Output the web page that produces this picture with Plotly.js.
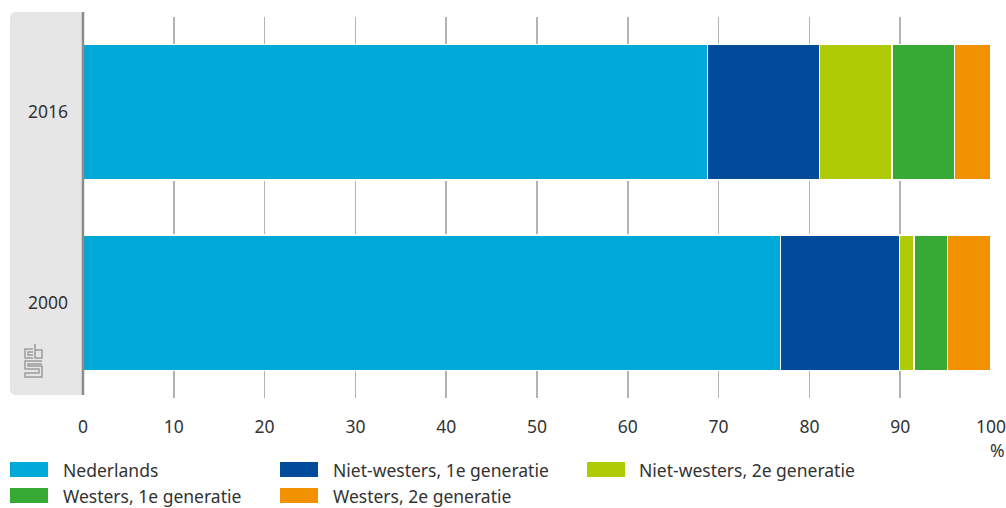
<!DOCTYPE html>
<html><head><meta charset="utf-8">
<script src="https://cdn.plot.ly/plotly-3.0.1.min.js"></script>
<style>html,body{margin:0;padding:0;background:#fff}#chart{width:1006px;height:508px}</style>
</head><body><div id="chart"></div>
<script>
const years = ['2000', '2016'];
const seriesNames = ['Nederlands', 'Niet-westers, 1e generatie', 'Niet-westers, 2e generatie', 'Westers, 1e generatie', 'Westers, 2e generatie'];
const nederlands = [76.8, 68.8];
const nietWesters1 = [13.1, 12.3];
const nietWesters2 = [1.6, 8.0];
const westers1 = [3.7, 6.9];
const westers2 = [4.8, 4.0];
const colors = ['#00a9d8', '#004c9b', '#afcb05', '#37a935', '#f39200'];
const xTicks = [0, 10, 20, 30, 40, 50, 60, 70, 80, 90, 100];

const values = [nederlands, nietWesters1, nietWesters2, westers1, westers2];
const traces = values.map((v, i) => ({
  type: 'bar', orientation: 'h', y: years, x: v, name: seriesNames[i],
  marker: {color: colors[i], line: {color: '#ffffff', width: 1.5}},
  hoverinfo: 'x+name', showlegend: false
}));

const W = 1006, H = 508, L = 83, R = 15, T = 17, B = 110;
const pw = W - L - R, ph = H - T - B;
const px = x => (x - L) / pw;
const py = y => (H - B - y) / ph;

const fontFam = '"Noto Sans", "Open Sans", sans-serif';
const FS = 17.5;
const txtCol = '#333333';
const shapes = [];
const annotations = [];

// grey panel behind y labels
shapes.push({type: 'path', xref: 'paper', yref: 'paper', layer: 'below',
  path: `M ${px(10)} ${py(18)} Q ${px(10)} ${py(12)} ${px(16)} ${py(12)} L ${px(83)} ${py(12)} L ${px(83)} ${py(395)} L ${px(16)} ${py(395)} Q ${px(10)} ${py(395)} ${px(10)} ${py(389)} Z`,
  fillcolor: '#e6e6e6', line: {width: 0}});
// left axis line
shapes.push({type: 'line', xref: 'paper', yref: 'paper', x0: 0, x1: 0, y0: py(395), y1: py(12), line: {color: '#8c8c8c', width: 2.5}, layer: 'above'});

// cbs logo (outline)
const logoCol = '#9c9c9c';
const lp = (pts) => 'M ' + pts.map(p => px(p[0]) + ' ' + py(p[1])).join(' L ');
[
  [[33,349],[25,349],[25,358],[33,358]],
  [[33,355],[28,355],[28,352],[33,352]],
  [[35,344],[35,358],[42,358],[42,350],[35,350]],
  [[42,361],[25,361],[25,369],[39,369],[39,373],[25,373],[25,377],[42,377],[42,366],[28,366],[28,364],[42,364]]
].forEach(p => shapes.push({type: 'path', xref: 'paper', yref: 'paper', path: lp(p), line: {color: logoCol, width: 1.5}}));

// legend
const legItems = [
  [10, 469.5, 61], [280, 469.5, 331], [587, 469.5, 637],
  [10, 495.5, 61], [280, 495.5, 331]
];
legItems.forEach((it, i) => {
  shapes.push({type: 'rect', xref: 'paper', yref: 'paper', x0: px(it[0]), x1: px(it[0] + 38), y0: py(it[1] + 7.5), y1: py(it[1] - 7.5), fillcolor: colors[i], line: {width: 0}});
  annotations.push({xref: 'paper', yref: 'paper', x: px(it[2]), y: py(it[1]), xanchor: 'left', yanchor: 'middle', text: seriesNames[i], showarrow: false, font: {family: fontFam, size: FS, color: txtCol}});
});
annotations.push({xref: 'paper', yref: 'paper', x: px(998), y: py(450), xanchor: 'center', yanchor: 'middle', text: '%', showarrow: false, font: {family: fontFam, size: FS, color: txtCol}});

const layout = {
  width: W, height: H, margin: {l: L, r: R, t: T, b: B},
  paper_bgcolor: '#ffffff', plot_bgcolor: 'rgba(0,0,0,0)',
  barmode: 'stack', bargap: 0.29, showlegend: false,
  font: {family: fontFam, size: FS, color: txtCol},
  xaxis: {range: [0, 100], tickvals: xTicks, ticktext: xTicks.map(String), showgrid: true, gridcolor: '#b3b3b3', gridwidth: 1.5,
    zeroline: false, showline: false, ticks: '', ticklabelstandoff: 16, ticklabeloverflow: 'allow',
    tickfont: {family: fontFam, size: FS, color: txtCol}, fixedrange: true},
  yaxis: {type: 'category', categoryorder: 'array', categoryarray: years, showgrid: false, zeroline: false, showline: false,
    ticks: '', ticklabelstandoff: 14, tickfont: {family: fontFam, size: FS, color: txtCol}, range: [-0.5, 1.5], fixedrange: true},
  shapes: shapes, annotations: annotations
};
Plotly.newPlot('chart', traces, layout, {displayModeBar: false, staticPlot: true});
</script></body></html>
